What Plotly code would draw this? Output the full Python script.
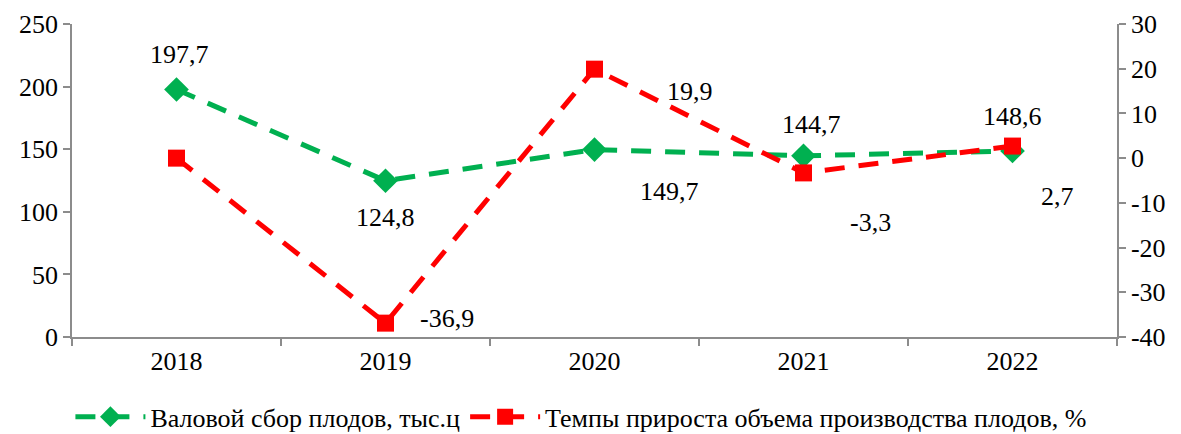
import plotly.graph_objects as go

years = ["2018", "2019", "2020", "2021", "2022"]
gross_harvest = [197.7, 124.8, 149.7, 144.7, 148.6]
growth_rate = [0.0, -36.9, 19.9, -3.3, 2.7]
growth_labels = ["", "-36,9", "19,9", "-3,3", "2,7"]
harvest_labels = ["197,7", "124,8", "149,7", "144,7", "148,6"]
left_ticks = [0, 50, 100, 150, 200, 250]
right_ticks = [-40, -30, -20, -10, 0, 10, 20, 30]

name_harvest = "Валовой сбор плодов, тыс.ц"
name_growth = "Темпы прироста объема производства плодов, %"

GREEN = "#00B050"
RED = "#FF0000"
FONT = "Liberation Serif"
FS = 26

# label offsets in pixels (style only)
harvest_shift = [(3, 35), (0, -37), (75, -42), (8, 31), (0, 34)]
growth_shift = [(0, 0), (61, 5), (95, -22), (67, -50), (45, -50)]

fig = go.Figure()
fig.add_trace(go.Scatter(
    x=years, y=gross_harvest, name=name_harvest, mode="lines+markers",
    line=dict(color=GREEN, width=5, dash="20px,14px"),
    marker=dict(symbol="diamond", size=19, color=GREEN),
    yaxis="y", cliponaxis=False))
fig.add_trace(go.Scatter(
    x=years, y=growth_rate, name=name_growth, mode="lines+markers",
    line=dict(color=RED, width=5, dash="20px,14px"),
    marker=dict(symbol="square", size=17, color=RED),
    yaxis="y2", cliponaxis=False))

ann = []
for i, (v, t) in enumerate(zip(gross_harvest, harvest_labels)):
    dx, dy = harvest_shift[i]
    ann.append(dict(x=i, y=v, xref="x", yref="y", text=t, showarrow=False,
                    xshift=dx, yshift=dy, font=dict(family=FONT, size=FS, color="black")))
for i, (v, t) in enumerate(zip(growth_rate, growth_labels)):
    if not t:
        continue
    dx, dy = growth_shift[i]
    ann.append(dict(x=i, y=v, xref="x", yref="y2", text=t, showarrow=False,
                    xshift=dx, yshift=dy, font=dict(family=FONT, size=FS, color="black")))

axis_col = "#8C8C8C"
fig.update_layout(
    width=1173, height=426,
    margin=dict(l=64, r=64, t=16, b=97, autoexpand=False),
    paper_bgcolor="white", plot_bgcolor="white",
    font=dict(family=FONT, size=FS, color="black"),
    showlegend=True,
    legend=dict(orientation="h", x=0.487, xanchor="center", y=-0.255, yanchor="middle",
                font=dict(family=FONT, size=FS), tracegroupgap=0, itemwidth=70,
                bgcolor="rgba(0,0,0,0)"),
    xaxis=dict(type="category", range=[-0.5, 4.5], tickson="boundaries",
               ticks="outside", ticklen=7, tickcolor=axis_col, tickwidth=1.5,
               showline=True, linecolor=axis_col, linewidth=1.5, showgrid=False,
               zeroline=False, tickfont=dict(family=FONT, size=FS), automargin=False),
    yaxis=dict(range=[0, 250], tickvals=left_ticks, ticktext=[str(t) for t in left_ticks],
               ticks="outside", ticklen=7,
               tickcolor=axis_col, tickwidth=1.5, showline=True, linecolor=axis_col,
               linewidth=1.5, showgrid=False, zeroline=False,
               tickfont=dict(family=FONT, size=FS), automargin=False),
    yaxis2=dict(range=[-40, 30], tickvals=right_ticks, ticktext=[str(t) for t in right_ticks],
                overlaying="y", side="right",
                ticks="outside", ticklen=7, tickcolor=axis_col, tickwidth=1.5,
                showline=True, linecolor=axis_col, linewidth=1.5, showgrid=False,
                zeroline=False, tickfont=dict(family=FONT, size=FS), automargin=False),
    annotations=ann,
)

fig.write_html("out.html")
